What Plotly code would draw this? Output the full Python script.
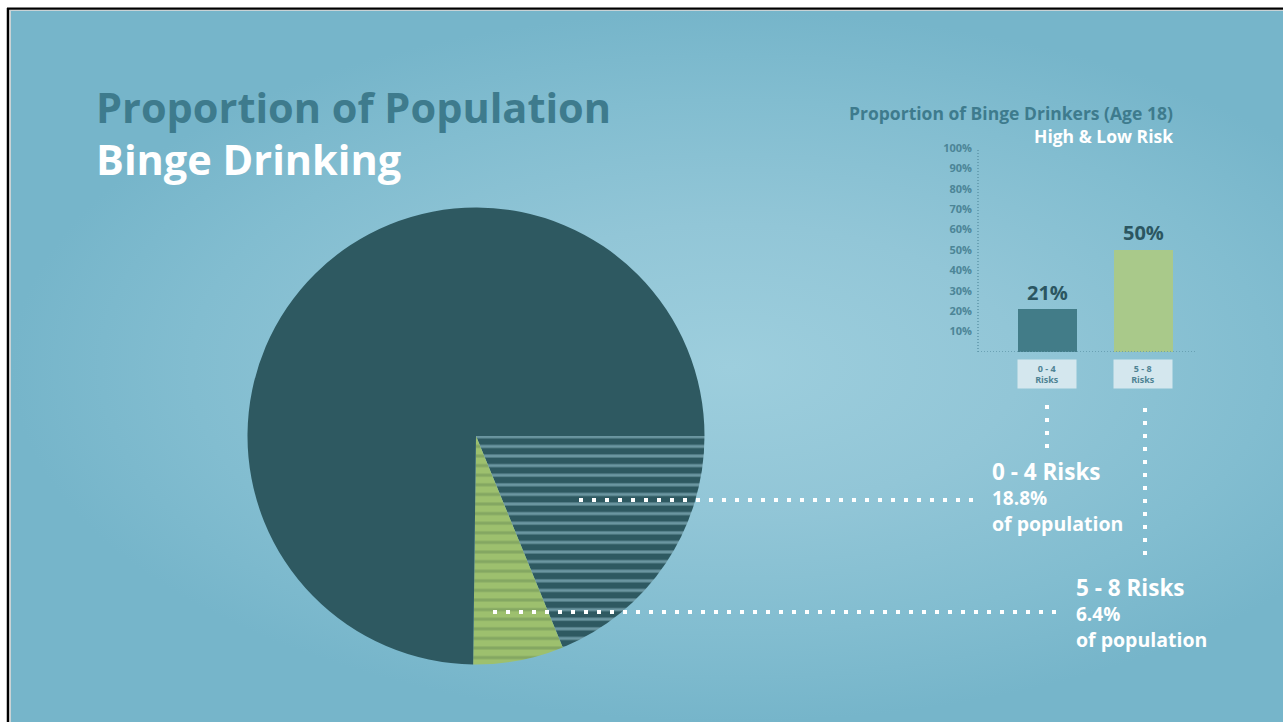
import plotly.graph_objects as go

# Share of the whole population by binge-drinking risk group
pie_labels = ["0 - 4 Risks", "5 - 8 Risks", "Not binge drinking"]
pie_values = [18.8, 6.4, 74.8]
pie_text = ["18.8%", "6.4%"]

# Proportion of binge drinkers aged 18, by number of risks
bar_categories = ["0 - 4", "5 - 8"]
bar_values = [21, 50]
bar_box_labels = ["0 - 4<br>Risks", "5 - 8<br>Risks"]

# Y axis ticks of the bar chart
ytick_values = [10, 20, 30, 40, 50, 60, 70, 80, 90, 100]
ytick_labels = ["10%", "20%", "30%", "40%", "50%", "60%", "70%", "80%", "90%", "100%"]

W, H = 1283, 722
TOP = 8  # screen row where the figure starts
FONT = "Open Sans"

DARK = "#2e5961"
GREEN = "#9dc06e"
BAR_DARK = "#427c88"
BAR_GREEN = "#a9c98a"
TITLE_BLUE = "#3e7b8d"


def fx(x):
    return x / W


def fy(y):
    # screen row -> paper fraction
    return 1 - (y - TOP) / (H - TOP)


fig = go.Figure()

# Backdrop panel with a soft radial glow (screen-space axes x/y)
fig.add_trace(go.Scatter(
    x=[11, 1449, 1449, 11, 11],
    y=[11, 11, 722, 722, 11],
    mode="lines",
    fill="toself",
    line=dict(width=0, color="rgba(0,0,0,0)"),
    fillgradient=dict(type="radial",
                      colorscale=[[0, "#9dcedd"], [0.4, "#92c6d7"], [0.75, "#82bdd0"], [1, "#76b5ca"]]),
    hoverinfo="skip",
    showlegend=False,
    xaxis="x", yaxis="y",
))

R = 228.5
PCX, PCY = 476, 436
fig.add_trace(go.Pie(
    labels=pie_labels,
    values=pie_values,
    sort=False,
    direction="clockwise",
    rotation=90,
    textinfo="none",
    hoverinfo="label+value",
    showlegend=False,
    domain=dict(x=[fx(PCX - R), fx(PCX + R)], y=[fy(PCY + R), fy(PCY - R)]),
    marker=dict(
        colors=[DARK, GREEN, DARK],
        line=dict(width=0),
        pattern=dict(
            shape=["-", "-", ""],
            fgcolor=["#6b96a1", "#84a762", DARK],
            bgcolor=[DARK, GREEN, DARK],
            size=9.6,
            solidity=0.32,
            fillmode="replace",
        ),
    ),
))

fig.add_trace(go.Bar(
    x=bar_categories,
    y=bar_values,
    marker=dict(color=[BAR_DARK, BAR_GREEN], line_width=0),
    width=0.61,
    showlegend=False,
    hoverinfo="x+y",
    xaxis="x2", yaxis="y2",
))

shapes = []

# Frame lines along the top and left edges
shapes += [
    dict(type="line", xref="paper", yref="paper", x0=fx(7), x1=1, y0=fy(8.6), y1=fy(8.6),
         line=dict(color="black", width=2.4)),
    dict(type="line", xref="paper", yref="paper", x0=fx(8), x1=fx(8), y0=fy(8), y1=0,
         line=dict(color="black", width=2.5)),
    dict(type="line", xref="paper", yref="paper", x0=fx(10), x1=1, y0=fy(10.5), y1=fy(10.5),
         line=dict(color="#c9d3d6", width=1)),
    dict(type="line", xref="paper", yref="paper", x0=fx(10.5), x1=fx(10.5), y0=fy(10), y1=0,
         line=dict(color="#c9d3d6", width=1)),
]

# Dotted axis lines of the bar chart
AXIS_DOT = "#5f97a9"
shapes += [
    dict(type="line", xref="x2 domain", yref="y2", x0=0, x1=0, y0=0, y1=100,
         line=dict(color=AXIS_DOT, width=1.5, dash="1px,2px")),
    dict(type="line", xref="x2 domain", yref="y2", x0=0, x1=1, y0=0, y1=0,
         line=dict(color=AXIS_DOT, width=1.5, dash="1px,2px")),
]

# White dotted leader lines from the pie to the labels
DOTS = dict(color="white", width=4, dash="4px,9px")
for x0, y0, x1, y1 in [(579, 500, 980, 500), (493, 612, 1056, 612),
                       (1047, 405, 1047, 452), (1145, 408, 1145, 560)]:
    shapes.append(dict(type="line", xref="paper", yref="paper",
                       x0=fx(x0), x1=fx(x1), y0=fy(y0), y1=fy(y1), line=DOTS))

annotations = []

# Value labels above the bars
for cat, val in zip(bar_categories, bar_values):
    annotations.append(dict(x=cat, y=val, xref="x2", yref="y2", text=f"<b>{val}%</b>",
                            showarrow=False, yanchor="middle", yshift=17,
                            font=dict(family=FONT, size=20, color="#2b5661")))

# Category boxes under the bars
for cat, lab in zip(bar_categories, bar_box_labels):
    annotations.append(dict(x=cat, y=fy(374), xref="x2", yref="paper", text=f"<b>{lab}</b>",
                            showarrow=False, yanchor="middle", width=58, height=28,
                            bgcolor="#d4e7ee", borderpad=0,
                            font=dict(family=FONT, size=9, color="#4e8394")))


def text(x, y, s, size, color, anchor="left"):
    annotations.append(dict(x=fx(x), y=fy(y), xref="paper", yref="paper", text=s,
                            showarrow=False, xanchor=anchor, yanchor="middle", align=anchor,
                            font=dict(family=FONT, size=size, color=color)))


def sized(s, px, color=None):
    style = f"font-size:{px}px" + (f";color:{color}" if color else "")
    return f'<span style="{style}"><b>{s}</b></span>'


# Main title block
text(94, 132.5,
     sized("Proportion of Population", 41.5) + "<br>" + sized("Binge Drinking", 41.5, "white"),
     40, TITLE_BLUE)

# Bar chart titles
text(1175, 113, "<b>Proportion of Binge Drinkers (Age 18)</b>", 17.5, TITLE_BLUE, "right")
text(1175, 136, "<b>High & Low Risk</b>", 17.5, "white", "right")

# Labels at the ends of the leader lines
text(990, 496,
     sized("0 - 4 Risks", 22.5) + "<br>" + sized(pie_text[0], 19) + "<br>" + sized("of population", 19.5),
     19.5, "white")
text(1074, 612.5,
     sized("5 - 8 Risks", 22.5) + "<br>" + sized(pie_text[1], 19) + "<br>" + sized("of population", 19.5),
     19.5, "white")

fig.update_layout(
    width=W, height=H,
    margin=dict(l=0, r=0, t=0, b=0),
    paper_bgcolor="white",
    plot_bgcolor="rgba(0,0,0,0)",
    font=dict(family=FONT),
    shapes=shapes,
    annotations=annotations,
    bargap=0,
    xaxis=dict(domain=[0, 1], range=[0, W], visible=False, fixedrange=True),
    yaxis=dict(domain=[0, 1], range=[H, TOP], visible=False, fixedrange=True),
    xaxis2=dict(
        domain=[fx(978), fx(1197)],
        range=[-0.725, 1.56],
        anchor="y2",
        showticklabels=False, showgrid=False, zeroline=False, showline=False,
        fixedrange=True,
    ),
    yaxis2=dict(
        domain=[fy(352), fy(148)],
        range=[0, 100],
        anchor="x2",
        tickvals=ytick_values,
        ticktext=ytick_labels,
        tickfont=dict(family=FONT, size=11, color="#4c8597", weight="bold"),
        ticks="",
        ticklabelstandoff=5,
        showgrid=False, zeroline=False, showline=False,
        fixedrange=True,
    ),
)

fig.write_html("out.html")
